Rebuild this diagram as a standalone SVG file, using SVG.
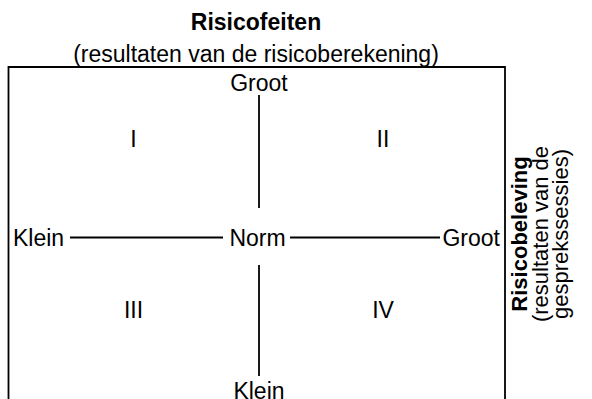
<svg xmlns="http://www.w3.org/2000/svg" width="592" height="399" viewBox="0 0 592 399">
<style>
text{font-family:"Liberation Sans",Arial,sans-serif;font-size:23px;fill:#000}
.b{font-weight:bold}
.m{text-anchor:middle}
.r{font-size:22px}
.ln{stroke:#000;stroke-width:1.8;fill:none}
</style>
<rect width="592" height="399" fill="#fff"/>
<g id="title">
<text class="b m" x="256" y="30">Risicofeiten</text>
<text class="m" x="256" y="62">(resultaten van de risicoberekening)</text>
</g>
<g id="frame"><path class="ln" d="M8.5,400 V67 H505 V400"/></g>
<g id="side">
<text class="b m r" transform="translate(527,234) rotate(-90)">Risicobeleving</text>
<text class="m r" transform="translate(548,234) rotate(-90)">(resultaten van de</text>
<text class="m r" transform="translate(568,234) rotate(-90)">gesprekssessies)</text>
</g>
<g id="connectors">
<line class="ln" x1="259" y1="95" x2="259" y2="208"/>
<line class="ln" x1="259" y1="265" x2="259" y2="376"/>
<line class="ln" x1="70" y1="237.5" x2="223" y2="237.5"/>
<line class="ln" x1="290" y1="237.5" x2="440" y2="237.5"/>
</g>
<g id="n-groot-top"><text class="m" x="259" y="91">Groot</text></g>
<g id="n-klein-bottom"><text class="m" x="259" y="399">Klein</text></g>
<g id="n-klein-left"><text x="13" y="246">Klein</text></g>
<g id="n-norm"><text class="m" x="257.5" y="246">Norm</text></g>
<g id="n-groot-right"><text x="500" y="246" text-anchor="end">Groot</text></g>
<g id="q1"><text class="m" x="133.5" y="147">I</text></g>
<g id="q2"><text class="m" x="383" y="147">II</text></g>
<g id="q3"><text class="m" x="133.5" y="318">III</text></g>
<g id="q4"><text class="m" x="383" y="318">IV</text></g>
</svg>
